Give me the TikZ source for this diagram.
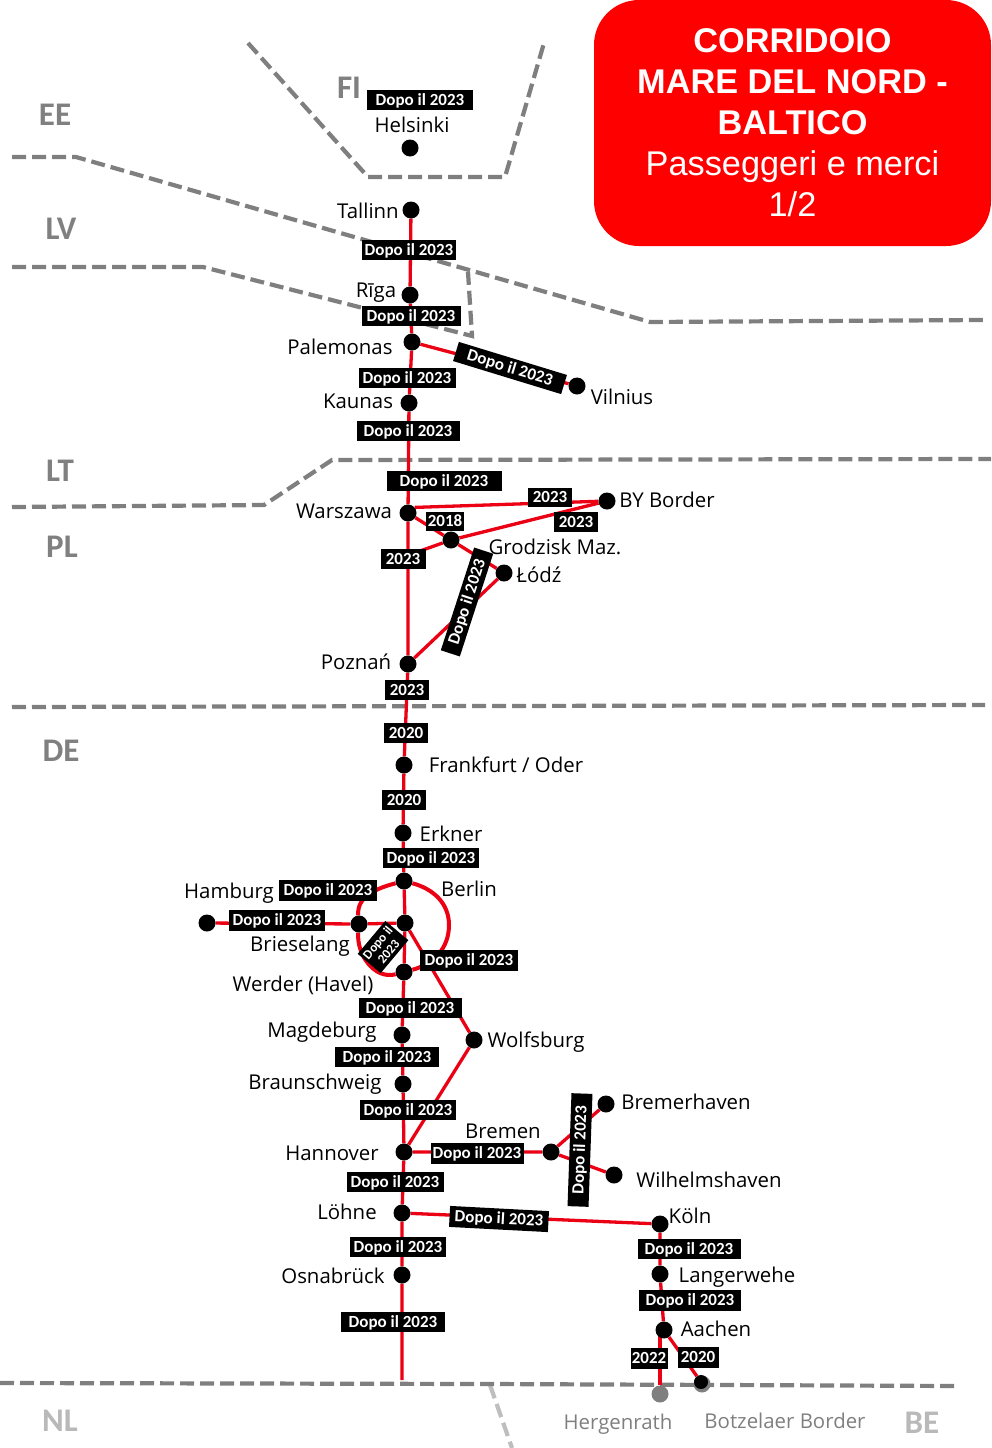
\documentclass[tikz,border=0pt]{standalone}
\usepackage{fontspec}
\setmainfont{Liberation Sans}
\newfontfamily\tagfont{Carlito}
\newfontfamily\placefont{Open Sans}
\usetikzlibrary{backgrounds}
\definecolor{rail}{RGB}{235,0,20}
\definecolor{frontier}{RGB}{127,127,127}
\definecolor{frontierlight}{RGB}{190,190,190}
\definecolor{countrydark}{RGB}{128,128,128}
\definecolor{countrylight}{RGB}{185,185,185}
\tikzset{
  stop/.style={circle,fill=black,inner sep=0pt,minimum size=17pt},
  smallstop/.style={circle,fill=black,inner sep=0pt,minimum size=14pt},
  greystop/.style={circle,fill=frontier,inner sep=0pt,minimum size=17pt},
  tagbox/.style={fill=black,text=white,inner sep=0pt,minimum height=20pt,
    font=\tagfont\bfseries\fontsize{17}{18}\selectfont,align=center},
  tag/.style={tagbox,text height=12pt,text depth=2pt},
  place/.style={inner sep=0pt,text height=18pt,text depth=4pt,
    font=\placefont\fontsize{20.4}{22}\selectfont},
  faded/.style={place,text=frontier},
  country/.style={inner sep=0pt,text height=20pt,text depth=0pt,text=countrydark,
    font=\tagfont\bfseries\fontsize{33}{36}\selectfont},
  countryfaded/.style={country,text=countrylight},
  line/.style={draw=rail,line width=3.3pt},
  ring/.style={draw=rail,line width=4pt},
  border/.style={draw=frontier,line width=4.2pt,dash pattern=on 14pt off 6pt},
  borderlight/.style={draw=frontierlight,line width=4.2pt,dash pattern=on 14pt off 6pt},
  banner/.style={fill=red,text=white,rounded corners=45pt,minimum width=397pt,
    minimum height=246pt,inner sep=0pt,align=center,
    font=\fontsize{34.3}{41}\selectfont}
}
\begin{document}
\begin{tikzpicture}[x=1pt,y=-1pt]
\useasboundingbox (0,0) rectangle (991,1448);

% Title panel
\node[banner] (title) at (792.5,123) {%
  {\bfseries CORRIDOIO}\\
  {\bfseries MARE DEL NORD -}\\
  {\bfseries BALTICO}\\
  Passeggeri e merci\\
  1/2};

% Stations
\node[stop] (helsinki) at (410,148) {};
\node[stop] (tallinn) at (411,210) {};
\node[stop] (riga) at (410,295) {};
\node[stop] (palemonas) at (412,342) {};
\node[stop] (vilnius) at (577,386) {};
\node[stop] (kaunas) at (409,403) {};
\node[stop] (warszawa) at (408,513) {};
\node[stop] (byborder) at (607,501) {};
\node[stop] (grodzisk) at (451,540) {};
\node[stop] (lodz) at (504,573) {};
\node[stop] (poznan) at (408,664) {};
\node[stop] (frankfurt) at (404,765) {};
\node[stop] (erkner) at (403,833) {};
\node[stop] (berlin) at (404,881) {};
\node[stop] (brieselang) at (359,924) {};
\node[stop] (spandau) at (405,923) {};
\node[stop] (hamburg) at (207,923) {};
\node[stop] (werder) at (404,972) {};
\node[stop] (magdeburg) at (402,1035) {};
\node[stop] (wolfsburg) at (474,1040) {};
\node[stop] (braunschweig) at (403,1084) {};
\node[stop] (hannover) at (404,1152) {};
\node[stop] (bremen) at (551,1152) {};
\node[stop] (bremerhaven) at (606,1104) {};
\node[stop] (wilhelmshaven) at (614,1175) {};
\node[stop] (lohne) at (402,1213) {};
\node[stop] (koln) at (660,1224) {};
\node[stop] (osnabruck) at (402,1275) {};
\node[stop] (langerwehe) at (660,1274) {};
\node[stop] (aachen) at (664,1330) {};
\node[greystop] (hergenrath) at (660,1394) {};
\node[greystop] (botzelaershade) at (702,1384) {};
\node[smallstop] (botzelaer) at (701,1382) {};
\coordinate (lineend) at (402,1380);
\coordinate (ringeast) at (449,925);
\coordinate (junction) at (403,557);

% Frontiers and rail lines run beneath the stations and date tags
\begin{pgfonlayer}{background}
  \draw[border] (248,43) -- (368,177) -- (505,177) -- (544,43);
  \draw[border] (12,157) -- (76,157) -- (650,322) -- (985,320);
  \draw[border] (12,267) -- (203,267) -- (472,336) -- (468,272);
  \draw[border] (12,507) -- (264,505) -- (332,460) -- (991,459);
  \draw[border] (12,707) -- (985,705);
  \draw[borderlight] (490,1385) -- (512,1448);
  \draw[border] (0,1383) -- (490,1384) -- (958,1386);

  \draw[line] (tallinn) -- (riga) -- (palemonas) -- (kaunas) -- (warszawa)
    -- (poznan) -- (frankfurt) -- (erkner) -- (berlin) -- (spandau) -- (werder)
    -- (magdeburg) -- (braunschweig) -- (hannover) -- (lohne) -- (osnabruck)
    -- (lineend);
  \draw[line] (palemonas) -- (vilnius);
  \draw[line] (warszawa.40) -- (byborder);
  \draw[line] (warszawa) -- (grodzisk) -- (lodz) -- (poznan);
  \draw[line] (grodzisk) -- (byborder);
  \draw[line] (grodzisk) -- (junction);
  \draw[line] (hamburg) -- (brieselang) -- (spandau) -- (wolfsburg) -- (hannover);
  \draw[ring] (berlin) to[out=195,in=95] (brieselang)
    to[out=265,in=195] (werder);
  \draw[ring] (berlin) to[out=-15,in=90] (ringeast)
    to[out=-90,in=15] (werder);
  \draw[line] (hannover) -- (bremen) -- (bremerhaven);
  \draw[line] (bremen) -- (wilhelmshaven);
  \draw[line] (lohne) -- (koln) -- (langerwehe) -- (aachen);
  \draw[line] (hergenrath |- aachen) -- (hergenrath);
  \draw[line] (aachen) -- (botzelaer);
\end{pgfonlayer}

% Date tags
\node[tag,minimum width=106pt] (t01) at (420,100) {Dopo il 2023};
\node[tag,minimum width=94pt] (t02) at (409,250) {Dopo il 2023};
\node[tag,minimum width=99pt] (t03) at (411,316) {Dopo il 2023};
\node[tag,minimum width=97pt] (t04) at (407,378) {Dopo il 2023};
\node[tag,minimum width=103pt] (t05) at (408,431) {Dopo il 2023};
\node[tag,minimum width=113pt,rotate=-17] (t06) at (510,368) {Dopo il 2023};
\node[tag,minimum width=115pt] (t07) at (444,481) {Dopo il 2023};
\node[tag,minimum width=44pt,minimum height=19pt] (t08) at (550,497) {2023};
\node[tag,minimum width=44pt] (t09) at (576,522) {2023};
\node[tag,minimum width=38pt,minimum height=19pt] (t10) at (445,521) {2018};
\node[tag,minimum width=45pt] (t11) at (403,559) {2023};
\node[tag,minimum width=108pt,rotate=72] (t12) at (467,602) {Dopo il 2023};
\node[tag,minimum width=44pt] (t13) at (407,690) {2023};
\node[tag,minimum width=44pt] (t14) at (406,733) {2020};
\node[tag,minimum width=44pt] (t15) at (404,800) {2020};
\node[tag,minimum width=96pt] (t16) at (431,858) {Dopo il 2023};
\node[tag,minimum width=98pt,minimum height=21pt] (t17) at (328,890) {Dopo il 2023};
\node[tag,minimum width=96pt,minimum height=21pt] (t18) at (277,920) {Dopo il 2023};
\node[tagbox,minimum width=43pt,minimum height=30pt,rotate=50,
  font=\tagfont\bfseries\fontsize{13}{14}\selectfont] (t19) at (383,947) {Dopo il\\2023};
\node[tag,minimum width=98pt,minimum height=21pt] (t20) at (469,960) {Dopo il 2023};
\node[tag,minimum width=103pt] (t21) at (410,1008) {Dopo il 2023};
\node[tag,minimum width=104pt] (t22) at (387,1057) {Dopo il 2023};
\node[tag,minimum width=96pt] (t23) at (408,1110) {Dopo il 2023};
\node[tag,minimum width=93pt,minimum height=21pt] (t24) at (477,1153) {Dopo il 2023};
\node[tag,minimum width=97pt] (t25) at (395,1182) {Dopo il 2023};
\node[tag,minimum width=113pt,minimum height=21pt,rotate=88] (t26) at (580,1150) {Dopo il 2023};
\node[tag,minimum width=99pt,minimum height=21pt,rotate=-3] (t27) at (499,1219) {Dopo il 2023};
\node[tag,minimum width=96pt] (t28) at (398,1247) {Dopo il 2023};
\node[tag,minimum width=104pt] (t29) at (393,1322) {Dopo il 2023};
\node[tag,minimum width=103pt] (t30) at (689,1249) {Dopo il 2023};
\node[tag,minimum width=102pt,minimum height=21pt] (t31) at (690,1300) {Dopo il 2023};
\node[tag,minimum width=37pt,minimum height=21pt] (t32) at (649,1358) {2022};
\node[tag,minimum width=41pt,minimum height=21pt] (t33) at (698,1357) {2020};

% Station names
\node[place] (nhelsinki) at (412,125) {Helsinki};
\node[place] (ntallinn) at (368,211) {Tallinn};
\node[place] (nriga) at (376,290) {Rīga};
\node[place] (npalemonas) at (340,347) {Palemonas};
\node[place] (nvilnius) at (622,397) {Vilnius};
\node[place] (nkaunas) at (358,401) {Kaunas};
\node[place] (nwarszawa) at (344,511) {Warszawa};
\node[place] (nby) at (667,500) {BY Border};
\node[place] (ngrodzisk) at (555,547) {Grodzisk Maz.};
\node[place] (nlodz) at (539,575) {Łódź};
\node[place] (npoznan) at (356,662) {Poznań};
\node[place] (nfrankfurt) at (506,765) {Frankfurt / Oder};
\node[place] (nerkner) at (451,834) {Erkner};
\node[place] (nberlin) at (469,889) {Berlin};
\node[place] (nhamburg) at (229,891) {Hamburg};
\node[place] (nbrieselang) at (300,944) {Brieselang};
\node[place] (nwerder) at (303,984) {Werder (Havel)};
\node[place] (nmagdeburg) at (322,1030) {Magdeburg};
\node[place] (nwolfsburg) at (536,1040) {Wolfsburg};
\node[place] (nbraunschweig) at (315,1082) {Braunschweig};
\node[place] (nbremen) at (503,1131) {Bremen};
\node[place] (nhannover) at (332,1153) {Hannover};
\node[place] (nbremerhaven) at (686,1102) {Bremerhaven};
\node[place] (nwilhelmshaven) at (709,1180) {Wilhelmshaven};
\node[place] (nlohne) at (347,1212) {Löhne};
\node[place] (nkoln) at (690,1216) {Köln};
\node[place] (nosnabruck) at (333,1276) {Osnabrück};
\node[place] (nlangerwehe) at (737,1275) {Langerwehe};
\node[place] (naachen) at (716,1329) {Aachen};
\node[faded] (nhergenrath) at (618,1422) {Hergenrath};
\node[faded] (nbotzelaer) at (785,1421) {Botzelaer Border};

% Country codes
\node[country] (cfi) at (349,88) {FI};
\node[country] (cee) at (55,115) {EE};
\node[country] (clv) at (61,229) {LV};
\node[country] (clt) at (60,471) {LT};
\node[country] (cpl) at (62,547) {PL};
\node[country] (cde) at (61,751) {DE};
\node[countryfaded] (cnl) at (60,1421) {NL};
\node[countryfaded] (cbe) at (922,1423) {BE};
\end{tikzpicture}
\end{document}
